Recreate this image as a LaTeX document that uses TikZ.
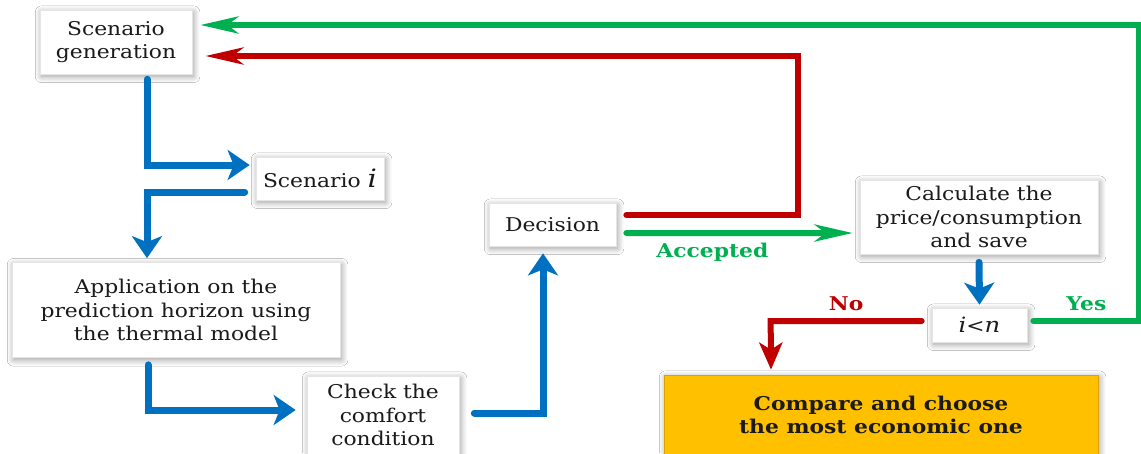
\documentclass[tikz,border=0pt]{standalone}
\usepackage{fontspec}
\setmainfont{DejaVu Serif}[FakeStretch=1.15]
\usetikzlibrary{arrows.meta,shadows.blur}
\definecolor{flowblue}{HTML}{0070C0}
\definecolor{flowred}{HTML}{C00000}
\definecolor{flowgreen}{HTML}{00B050}
\definecolor{boxgold}{HTML}{FFC000}
\definecolor{goldedge}{HTML}{D9A300}
\definecolor{ink}{HTML}{1A1A1A}

\tikzset{
  box/.style={draw=black!10, fill=white, line width=0.4pt, align=center,
    text=ink, inner sep=1pt, font=\fontsize{10.8}{13.2}\selectfont,
    blur shadow={shadow xshift=0.9pt, shadow yshift=-1.3pt,
      shadow blur radius=3.6pt, shadow blur steps=10, shadow opacity=40}},
  bluelink/.style={draw=flowblue, line width=0.14cm, line cap=round,
    -{Stealth[length=0.44cm, width=0.6cm, inset=0.12cm]}},
  redlink/.style={draw=flowred, line width=0.12cm, line cap=round,
    -{Stealth[length=0.76cm, width=0.34cm, inset=0.22cm]}},
  greenlink/.style={draw=flowgreen, line width=0.12cm, line cap=round,
    -{Stealth[length=0.76cm, width=0.34cm, inset=0.22cm]}},
  reddown/.style={draw=flowred, line width=0.12cm, line cap=round,
    -{Stealth[length=0.54cm, width=0.46cm, inset=0.14cm]}},
  tag/.style={font=\bfseries\fontsize{10.8}{13}\selectfont, inner sep=1pt},
}

\begin{document}
\begin{tikzpicture}[x=0.02cm, y=-0.02cm]
  \clip (0,0) rectangle (1141,453);
  \fill[white] (0,0) rectangle (1141,453);

  % process boxes
  \node[box, minimum width=152*0.02cm, minimum height=64*0.02cm] (sg) at (116,42)
    {Scenario\\generation};
  \node[box, minimum width=128*0.02cm, minimum height=43*0.02cm] (si) at (320,178.5)
    {Scenario \textit{\Large i}};
  \node[box, minimum width=328*0.02cm, minimum height=95*0.02cm] (app) at (176,310)
    {Application on the\\prediction horizon using\\the thermal model};
  \node[box, minimum width=152*0.02cm, minimum height=78*0.02cm] (chk) at (383,415)
    {Check the\\comfort\\condition};
  \node[box, minimum width=127*0.02cm, minimum height=43*0.02cm] (dec) at (552.5,224.5)
    {Decision};
  \node[box, minimum width=238*0.02cm, minimum height=74*0.02cm] (calc) at (979,217)
    {Calculate the\\price/consumption\\and save};
  \node[box, minimum width=95*0.02cm, minimum height=34*0.02cm] (cmp) at (979.5,325)
    {\textit{\large i}<\textit{\large n}};
  \node[box, draw=goldedge, fill=boxgold, font=\bfseries\fontsize{10.8}{13.2}\selectfont,
    minimum width=434*0.02cm, minimum height=80*0.02cm] (fin) at (881,415)
    {Compare and choose\\the most economic one};

  % main blue flow
  \draw[bluelink] ([shift={(31,5)}]sg.south) |- ([shift={(-6,-13.5)}]si.west);
  \draw[bluelink] ([shift={(-11,13.5)}]si.west) -| ([shift={(-29,-4)}]app.north);
  \draw[bluelink] ([shift={(-28,7)}]app.south) |- ([shift={(-11,-5)}]chk.west);
  \draw[bluelink] ([shift={(15,-2)}]chk.east) -| ([shift={(-9.5,7)}]dec.south);
  \draw[bluelink] ([shift={(0,8)}]calc.south) -- ([shift={(0,-3)}]cmp.north);

  % decision outcomes
  \draw[redlink] ([shift={(10,-9.5)}]dec.east) -- ++(172,0) |- ([shift={(13,14)}]sg.east);
  \draw[greenlink] ([shift={(10,8.5)}]dec.east) --
    node[tag, text=flowgreen, pos=0.38, below=3pt] {Accepted}
    ([shift={(-7,16)}]calc.west);

  % loop test
  \draw[reddown] ([shift={(-10,-4)}]cmp.west) --
    node[tag, text=flowred, above=3pt] {No} ++(-151,0) -- ([shift={(-110,-5)}]fin.north);
  \draw[greenlink] ([shift={(6,-4)}]cmp.east) --
    node[tag, text=flowgreen, above=3pt] {Yes} ++(106,0) |- ([shift={(8,-17)}]sg.east);
\end{tikzpicture}
\end{document}
